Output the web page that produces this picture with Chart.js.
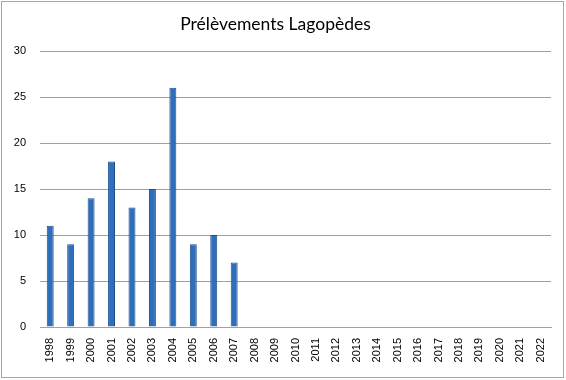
<!DOCTYPE html>
<html>
<head>
<meta charset="utf-8">
<script src="https://cdn.jsdelivr.net/npm/chart.js@4"></script>
<style>
  html, body { margin: 0; padding: 0; background: #fff; }
  #wrap { width: 566px; height: 380px; position: relative; }
</style>
</head>
<body>
<div id="wrap"><canvas id="chart" width="566" height="380"></canvas></div>
<script>
// données
const years = ['1998','1999','2000','2001','2002','2003','2004','2005','2006','2007','2008','2009','2010',
  '2011','2012','2013','2014','2015','2016','2017','2018','2019','2020','2021','2022'];
const prelevements = [11, 9, 14, 18, 13, 15, 26, 9, 10, 7, null, null, null,
  null, null, null, null, null, null, null, null, null, null, null, null];
const yTicks = [0, 5, 10, 15, 20, 25, 30];

// cadre gris autour du graphique
const frame = {
  id: 'frame',
  afterDraw(chart) {
    const ctx = chart.ctx;
    ctx.save();
    ctx.strokeStyle = '#a6a6a6';
    ctx.lineWidth = 1;
    ctx.strokeRect(1.5, 1.5, chart.width - 4, chart.height - 4);
    ctx.restore();
  }
};

new Chart(document.getElementById('chart'), {
  type: 'bar',
  data: {
    labels: years,
    datasets: [{
      label: 'Prélèvements',
      data: prelevements,
      backgroundColor: '#2f6ebb',
      borderColor: '#1f4e8c',
      borderWidth: 1,
      barPercentage: 0.34,
      categoryPercentage: 1
    }]
  },
  options: {
    responsive: false,
    animation: false,
    layout: { padding: { left: 0, right: 15, top: 0, bottom: 0 } },
    plugins: {
      legend: { display: false },
      tooltip: { enabled: false },
      title: {
        display: true,
        text: 'Prélèvements Lagopèdes',
        color: '#000',
        font: { family: 'Lato', size: 17.5, weight: 'normal', lineHeight: 1.2 },
        padding: { top: 14, bottom: 16 }
      }
    },
    scales: {
      y: {
        min: 0,
        max: 30,
        afterBuildTicks(axis) { axis.ticks = yTicks.map(v => ({ value: v })); },
        afterFit(axis) { axis.width = 40; },
        border: { display: false },
        grid: { color: '#a0a0a0', drawTicks: false },
        ticks: {
          padding: 14,
          color: '#000',
          font: { family: 'Liberation Sans', size: 11 }
        }
      },
      x: {
        afterFit(axis) { axis.height = 53; },
        border: { display: true, color: '#a0a0a0' },
        grid: { display: false, drawTicks: false },
        ticks: {
          autoSkip: false,
          minRotation: 90,
          maxRotation: 90,
          padding: 11,
          color: '#000',
          font: { family: 'Liberation Sans', size: 11 }
        }
      }
    }
  },
  plugins: [frame]
});
</script>
</body>
</html>
